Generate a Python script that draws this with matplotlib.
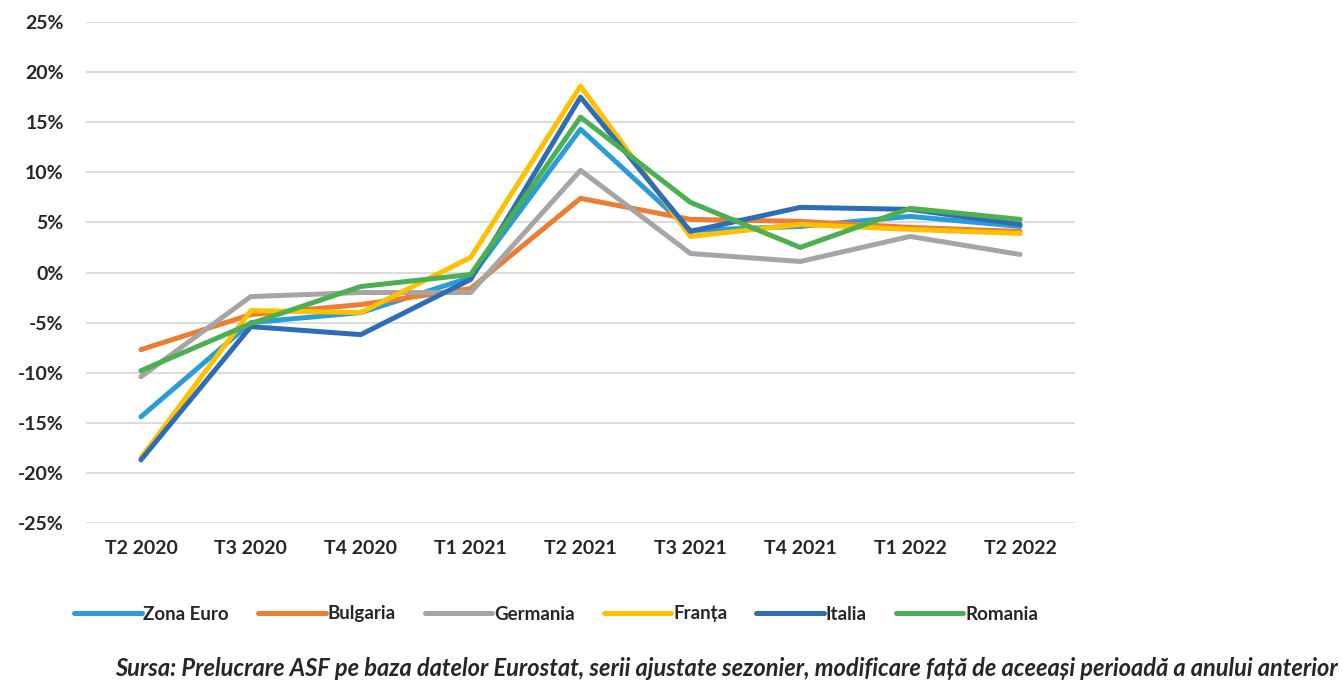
import numpy as np
import matplotlib.pyplot as plt
from matplotlib.ticker import FuncFormatter

plt.rcParams['font.family'] = ['Lato', 'DejaVu Sans']

quarters = ['T2 2020', 'T3 2020', 'T4 2020', 'T1 2021', 'T2 2021',
            'T3 2021', 'T4 2021', 'T1 2022', 'T2 2022']

zona_euro = [-14.4, -5.0, -4.0, -0.5, 14.3, 4.2, 4.6, 5.6, 4.6]
bulgaria = [-7.7, -4.2, -3.2, -1.6, 7.4, 5.3, 5.1, 4.5, 4.1]
germania = [-10.4, -2.4, -2.0, -2.0, 10.2, 1.9, 1.1, 3.6, 1.8]
franta = [-18.5, -3.8, -4.0, 1.5, 18.6, 3.6, 4.8, 4.3, 3.9]
italia = [-18.7, -5.4, -6.2, -0.7, 17.5, 4.1, 6.5, 6.3, 4.8]
romania = [-9.8, -5.1, -1.4, -0.2, 15.5, 7.0, 2.5, 6.4, 5.3]

series = [
    ('Zona Euro', zona_euro, '#2A9CD7'),
    ('Bulgaria', bulgaria, '#ED7D31'),
    ('Germania', germania, '#A5A5A5'),
    ('Franța', franta, '#FFC000'),
    ('Italia', italia, '#2E6DB5'),
    ('Romania', romania, '#4CAF50'),
]

fig = plt.figure(figsize=(13.42, 6.87), dpi=100, facecolor='white')
ax = fig.add_axes([86 / 1342, 1 - 523 / 687, (1075 - 86) / 1342, (523 - 22) / 687])

x = np.arange(len(quarters))
for name, vals, col in series:
    ax.plot(x, vals, color=col, linewidth=3.6, label=name, solid_capstyle='round')

ax.set_xlim(-0.5, len(quarters) - 0.5)
ax.set_ylim(-25, 25)
ax.set_yticks(np.arange(-25, 26, 5))
ax.yaxis.set_major_formatter(FuncFormatter(lambda v, p: f'{v:.0f}%'))
ax.set_xticks(x)
ax.set_xticklabels(quarters)
ax.grid(axis='y', color='#D9D9D9', linewidth=1.3)
ax.set_axisbelow(True)
for s in ax.spines.values():
    s.set_visible(False)
ax.tick_params(length=0, labelsize=14, colors='#262626', pad=12)
for lbl in ax.get_xticklabels() + ax.get_yticklabels():
    lbl.set_fontweight('bold')
ax.tick_params(axis='y', pad=16)

leg = fig.legend(loc='center', bbox_to_anchor=(556 / 1342, 1 - 614 / 687), ncol=6,
                 frameon=False, fontsize=13.5, handlelength=3.6, handletextpad=0.1,
                 columnspacing=1.55)
for t in leg.get_texts():
    t.set_fontweight('bold')
    t.set_color('#262626')

fig.text(1338 / 1342, 1 - 669 / 687,
         'Sursa: Prelucrare ASF pe baza datelor Eurostat, serii ajustate sezonier, '
         'modificare față de aceeași perioadă a anului anterior',
         ha='right', va='center', fontsize=17, style='italic', fontweight='bold',
         color='#262626')

fig.savefig('out.png', dpi=100, facecolor='white')
